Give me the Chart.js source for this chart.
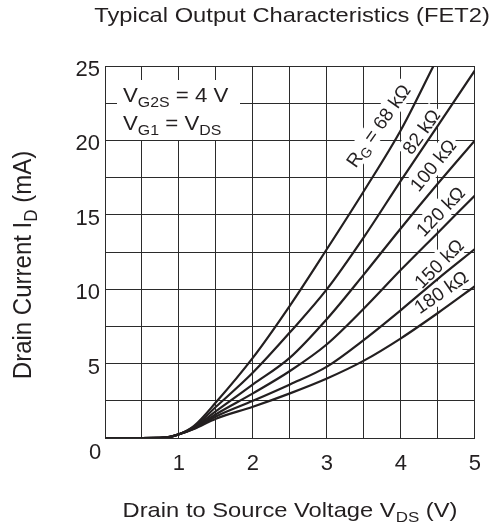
<!DOCTYPE html>
<html>
<head>
<meta charset="utf-8">
<script src="https://cdn.jsdelivr.net/npm/chart.js@4.4.1/dist/chart.umd.min.js"></script>
<style>
  html, body { margin: 0; padding: 0; background: #fff; }
  #wrap { width: 494px; height: 524px; }
</style>
</head>
<body>
<div id="wrap"><canvas id="c" width="494" height="524"></canvas></div>
<script>
// data, VDS in V, ID in mA

const vds = [0, 0.5, 0.8, 1.0, 1.2, 1.5, 2, 2.5, 3, 3.5, 4, 4.5, 5];
const vds68 = [0, 0.5, 0.8, 1.0, 1.2, 1.5, 2, 2.5, 3, 3.5, 4, 4.44];

const id68  = [0, 0, 0.02, 0.25, 0.8, 2.4, 5.4, 8.9, 12.7, 16.6, 20.7, 25];
const id82  = [0, 0, 0.02, 0.25, 0.75, 2.1, 4.4, 7.1, 10.0, 13.5, 17.3, 21.0, 24.7];
const id100 = [0, 0, 0.02, 0.25, 0.7, 1.8, 3.6, 5.4, 8.0, 11.0, 14.1, 17.1, 20.0];
const id120 = [0, 0, 0.02, 0.25, 0.65, 1.6, 3.0, 4.5, 6.3, 8.7, 11.3, 13.8, 16.3];
const id150 = [0, 0, 0.02, 0.25, 0.62, 1.45, 2.5, 3.6, 4.8, 6.6, 8.6, 10.7, 12.7];
const id180 = [0, 0, 0.02, 0.25, 0.6, 1.3, 2.1, 3.0, 4.0, 5.2, 6.7, 8.4, 10.2];

const rgNames = ["68 k\u03A9", "82 k\u03A9", "100 k\u03A9", "120 k\u03A9", "150 k\u03A9", "180 k\u03A9"];

const xTicks = [0, 1, 2, 3, 4, 5];
const yTicks = [0, 5, 10, 15, 20, 25];

// where the curve names sit (V, mA) and their slant in degrees
const labelSpots = [
  { v: 3.69, i: 21.0, ang: -54.7 },
  { v: 4.27, i: 20.6, ang: -54 },
  { v: 4.43, i: 18.35, ang: -50.6 },
  { v: 4.53, i: 15.25, ang: -46 },
  { v: 4.51, i: 11.74, ang: -45 },
  { v: 4.54, i: 9.83, ang: -34.6 }
];

const ink = "#231f20";
const fam = '"Liberation Sans", Arial, sans-serif';

function pts(xs, ys) {
  return ys.map((y, k) => ({ x: xs[k], y }));
}

const serie = [
  pts(vds68, id68), pts(vds, id82), pts(vds, id100),
  pts(vds, id120), pts(vds, id150), pts(vds, id180)
];

function measureRich(ctx, parts, size) {
  let w = 0;
  parts.forEach((p) => {
    ctx.font = (p.sub ? Math.round(size * 0.72) : size) + "px " + fam;
    p.w = ctx.measureText(p.t).width;
    w += p.w;
  });
  return w;
}

// texte avec indices, sx = etirement horizontal
function richText(ctx, parts, x, y, size, align, sx) {
  sx = sx || 1;
  const w = measureRich(ctx, parts, size);
  ctx.save();
  ctx.translate(x, y);
  ctx.scale(sx, 1);
  let cx = align === "center" ? -w / 2 : 0;
  ctx.textAlign = "left";
  ctx.textBaseline = "alphabetic";
  parts.forEach((p) => {
    ctx.font = (p.sub ? Math.round(size * 0.72) : size) + "px " + fam;
    ctx.fillText(p.t, cx, p.sub ? size * 0.22 : 0);
    cx += p.w;
  });
  ctx.restore();
  return w * sx;
}

const annotations = {
  id: "annotations",
  beforeDatasetsDraw(chart) {
    const ctx = chart.ctx;
    const xs = chart.scales.x, ys = chart.scales.y;
    ctx.save();

    // boite conditions
    ctx.fillStyle = "#fff";
    ctx.fillRect(117, 80, 123, 60);
    ctx.fillStyle = ink;
    richText(ctx, [{ t: "V" }, { t: "G2S", sub: true }, { t: " = 4 V" }], 123, 102, 21, "left", 1.06);
    richText(ctx, [{ t: "V" }, { t: "G1", sub: true }, { t: " = V" }, { t: "DS", sub: true }], 123, 130, 21, "left", 1.06);

    // noms des courbes
    const size = 19;
    labelSpots.forEach((s, k) => {
      const parts = k === 0
        ? [{ t: "R" }, { t: "G", sub: true }, { t: " = " + rgNames[k] }]
        : [{ t: rgNames[k] }];
      const w = measureRich(ctx, parts, size);
      ctx.save();
      ctx.translate(xs.getPixelForValue(s.v), ys.getPixelForValue(s.i));
      ctx.rotate(s.ang * Math.PI / 180);
      ctx.fillStyle = "#fff";
      ctx.fillRect(-w / 2 - 3, -size * 0.55, w + 6, size * 1.1);
      ctx.fillStyle = ink;
      richText(ctx, parts, 0, size * 0.36, size, "center");
      ctx.restore();
    });
    ctx.restore();
  },
  afterDraw(chart) {
    const ctx = chart.ctx;
    const a = chart.chartArea;
    ctx.save();
    ctx.fillStyle = ink;

    richText(ctx, [{ t: "Typical Output Characteristics (FET2)" }], 292, 22, 21, "center", 1.13);

    // zero commun au coin
    ctx.font = "22px " + fam;
    ctx.textAlign = "center";
    ctx.textBaseline = "middle";
    ctx.fillText("0", a.left - 10, a.bottom + 15);

    richText(ctx, [{ t: "Drain to Source Voltage V" }, { t: "DS", sub: true }, { t: " (V)" }], 290, 517, 21, "center", 1.13);

    ctx.translate(31, 265);
    ctx.rotate(-Math.PI / 2);
    ctx.scale(1, 1.1);
    richText(ctx, [{ t: "Drain Current I" }, { t: "D", sub: true }, { t: " (mA)" }], 0, 0, 24, "center");
    ctx.restore();
  }
};

new Chart(document.getElementById("c").getContext("2d"), {
  type: "line",
  data: {
    datasets: serie.map((d, k) => ({
      label: rgNames[k],
      data: d,
      borderColor: ink,
      borderWidth: 2.2,
      pointRadius: 0,
      fill: false,
      cubicInterpolationMode: "monotone"
    }))
  },
  options: {
    responsive: false,
    animation: false,
    layout: { padding: { left: 0, top: 66, right: 14, bottom: 0 } },
    plugins: {
      legend: { display: false },
      title: { display: false },
      tooltip: { enabled: false }
    },
    scales: {
      x: {
        type: "linear",
        min: 0,
        max: 5,
        afterFit: (s) => { s.height = 86; },
        grid: { color: "#2b2b2b", lineWidth: 1, drawTicks: false },
        border: { color: "#2b2b2b", width: 1 },
        ticks: {
          stepSize: 0.5,
          autoSkip: false,
          maxRotation: 0,
          padding: 13,
          color: ink,
          font: { family: fam, size: 22 },
          callback: (v) => (xTicks.includes(v) && v !== 0 ? v : "")
        }
      },
      y: {
        min: 0,
        max: 25,
        afterFit: (s) => { s.width = 105; },
        grid: { color: "#2b2b2b", lineWidth: 1, drawTicks: false },
        border: { color: "#2b2b2b", width: 1 },
        ticks: {
          stepSize: 2.5,
          autoSkip: false,
          padding: 5,
          labelOffset: 4,
          color: ink,
          font: { family: fam, size: 22 },
          callback: (v) => (yTicks.includes(v) && v !== 0 ? v : "")
        }
      }
    }
  },
  plugins: [annotations]
});
</script>
</body>
</html>
